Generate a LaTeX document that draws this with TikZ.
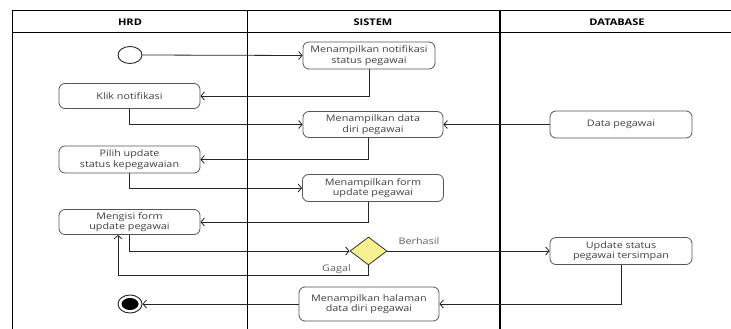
\documentclass[tikz,border=0pt]{standalone}
\usepackage{fontspec}
\setmainfont{Open Sans}
\newfontfamily\boxfont[FakeStretch=1.2]{Open Sans}
\usetikzlibrary{arrows.meta,shapes.geometric}
\definecolor{boxline}{HTML}{555555}
\definecolor{txt}{HTML}{404040}
\definecolor{lbltxt}{HTML}{606060}
\definecolor{decfill}{HTML}{F7F08E}
\tikzset{
  lane/.style={line width=1pt, draw=black},
  act/.style={draw=boxline, line width=0.8pt, rounded corners=6pt, fill=white,
    align=center, text=txt, inner sep=0pt,
    font=\boxfont\fontsize{9}{10.5}\selectfont},
  flow/.style={draw=black!85, line width=0.8pt,
    -{Straight Barb[length=3.5pt,width=8pt,line width=0.8pt]}},
  hdr/.style={font=\boxfont\fontsize{9.2}{10}\selectfont\bfseries},
  lbl/.style={text=lbltxt, font=\boxfont\fontsize{9}{10}\selectfont, inner sep=0pt, anchor=base}
}
\begin{document}
\begin{tikzpicture}[x=1pt,y=-1pt]
  \useasboundingbox (0,0) rectangle (731,329);
  \fill[white] (0,0) rectangle (731,329);

  % swimlane frame
  \draw[lane] (731,11) -- (12,11) -- (12,329);
  \draw[lane] (12,33) -- (731,33);
  \draw[lane] (247,11) -- (247,329);
  \draw[lane, line width=1.4pt] (500,11) -- (500,329);

  \node[hdr] (hHRD) at (130,22) {HRD};
  \node[hdr] (hSIS) at (373,22) {SISTEM};
  \node[hdr] (hDB)  at (617,22) {DATABASE};

  % initial and final states
  \node[draw=black!85, line width=0.9pt, ellipse, minimum width=24pt, minimum height=17pt, inner sep=0pt] (start) at (130,55) {};
  \node[draw=black!85, line width=0.9pt, ellipse, minimum width=24pt, minimum height=18pt, inner sep=0pt] (stop) at (130,304) {};
  \node[fill=black, ellipse, minimum width=17pt, minimum height=12pt, inner sep=0pt] (stopdot) at (130,304) {};

  % activities
  \node[act, minimum width=132pt, minimum height=27pt] (notif) at (369,55.5) {Menampilkan notifikasi\\status pegawai};
  \node[act, minimum width=141pt, minimum height=25pt] (klik) at (129.5,96) {Klik notifikasi};
  \node[act, minimum width=140pt, minimum height=26pt] (data) at (373,124.5) {Menampilkan data\\diri pegawai};
  \node[act, minimum width=142pt, minimum height=27pt] (dpeg) at (621,124.5) {Data pegawai};
  \node[act, minimum width=141pt, minimum height=27pt] (pilih) at (129.5,159.5) {Pilih update\\status kepegawaian};
  \node[act, minimum width=141pt, minimum height=27pt] (form) at (373,188) {Menampilkan form\\update pegawai};
  \node[act, minimum width=141pt, minimum height=25pt] (isi) at (129.5,222) {Mengisi form\\update pegawai};
  \node[draw=black!80, line width=0.8pt, fill=decfill, diamond, minimum width=37pt, minimum height=28pt, inner sep=0pt] (dec) at (368.5,251) {};
  \node[act, minimum width=142pt, minimum height=27pt] (upd) at (621,251) {Update status\\pegawai tersimpan};
  \node[act, minimum width=140pt, minimum height=34pt] (hal) at (369,304) {Menampilkan halaman\\data diri pegawai};

  % control flow
  \draw[flow] (start.east) -- (notif.west);
  \draw[flow] (notif.south) |- (klik.east);
  \draw[flow] (klik.south) |- (data.west);
  \draw[flow] (dpeg.west) -- (data.east);
  \draw[flow] ([xshift=-5pt]data.south) |- (pilih.east);
  \draw[flow] (pilih.south) |- (form.west);
  \draw[flow] ([xshift=-5pt]form.south) |- (isi.east);
  \draw[flow] (isi.south) |- (dec.west);
  \draw[flow] (dec.east) -- (upd.west);
  \draw[flow] (dec.south) -- ++(0,10) coordinate (gturn) -| ([xshift=-11.5pt]isi.south);
  \node[lbl] (lBer) at (419,244.5) {Berhasil};
  \node[lbl] (lGag) at (336.5,271.5) {Gagal};
  \draw[flow] (upd.south) |- (hal.east);
  \draw[flow] (hal.west) -- (stop.east);
\end{tikzpicture}
\end{document}
